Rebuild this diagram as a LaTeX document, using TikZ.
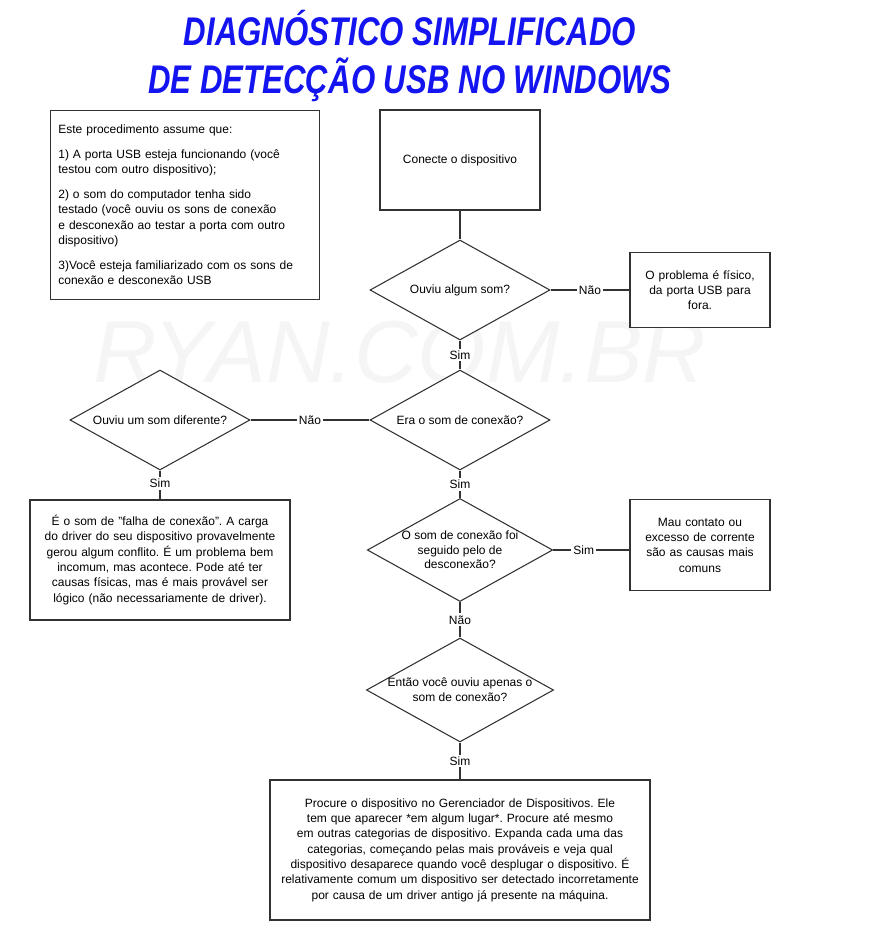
\documentclass[tikz,border=0pt]{standalone}
\usepackage{fontspec}
\setmainfont{Liberation Sans}
\usetikzlibrary{shapes.geometric,positioning}
\definecolor{titleblue}{RGB}{20,20,240}
\definecolor{edgegray}{RGB}{50,50,50}
\hyphenpenalty=10000
\exhyphenpenalty=10000
\frenchspacing

\begin{document}
\begin{tikzpicture}[x=0.75pt,y=-0.75pt,
	box/.style={draw=edgegray,thick,fill=white,align=center,font=\fontsize{9}{11.5}\selectfont},
	dec/.style={diamond,draw=edgegray,thick,fill=white,aspect=1.8,inner sep=0pt,minimum width=135pt,minimum height=75pt,align=center,font=\fontsize{9}{11}\selectfont},
	lab/.style={fill=white,inner sep=1.5pt,font=\fontsize{9}{10}\selectfont},
	line/.style={draw=edgegray,thick}
]
	\useasboundingbox (0,0) rectangle (878,940);
	% title and watermark
	\node[text=titleblue,font=\fontsize{30}{36}\selectfont\bfseries\itshape,align=center,xscale=0.78] (title) at (410,56) {DIAGNÓSTICO SIMPLIFICADO\\DE DETECÇÃO USB NO WINDOWS};
	\node[text=black!4,font=\fontsize{66}{66}\selectfont\itshape] (mark) at (400,352) {RYAN.COM.BR};
	% boxes
	\node[box,align=left,text width=190pt,minimum width=202pt,minimum height=142pt] (note) at (185,205) {Este procedimento assume que:\\[7pt]1) A porta USB esteja funcionando (você testou com outro dispositivo);\\[7pt]2) o som do computador tenha sido testado (você ouviu os sons de conexão e desconexão ao testar a porta com outro dispositivo)\\[7pt]3)Você esteja familiarizado com os sons de conexão e desconexão USB};
	\node[box,minimum width=120pt,minimum height=75pt] (start) at (460,160) {Conecte o dispositivo};
	\node[dec] (heard) at (460,290) {Ouviu algum som?};
	\node[box,text width=95pt,minimum width=105pt,minimum height=56pt] (phys) at (700,290) {O problema é físico,\\da porta USB para\\fora.};
	\node[dec] (conn) at (460,420) {Era o som de conexão?};
	\node[dec] (diff) at (160,420) {Ouviu um som diferente?};
	\node[box,text width=188pt,minimum width=195pt,minimum height=90pt] (fail) at (160,560) {É o som de "falha de conexão". A carga do driver do seu dispositivo provavelmente gerou algum conflito. É um problema bem incomum, mas acontece. Pode até ter causas físicas, mas é mais provável ser lógico (não necessariamente de driver).};
	\node[dec] (disc) at (460,550) {O som de conexão foi\\seguido pelo de\\desconexão?};
	\node[box,text width=95pt,minimum width=105pt,minimum height=68pt] (bad) at (700,545) {Mau contato ou\\excesso de corrente\\são as causas mais\\comuns};
	\node[dec] (only) at (460,690) {Então você ouviu apenas o\\som de conexão?};
	\node[box,text width=276pt,minimum width=285pt,minimum height=105pt] (find) at (460,850) {Procure o dispositivo no Gerenciador de Dispositivos. Ele tem que aparecer *em algum lugar*. Procure até mesmo em outras categorias de dispositivo. Expanda cada uma das categorias, começando pelas mais prováveis e veja qual dispositivo desaparece quando você desplugar o dispositivo. É relativamente comum um dispositivo ser detectado incorretamente por causa de um driver antigo já presente na máquina.};
	% connectors
	\draw[line] (start) -- (heard);
	\draw[line] (heard) -- node[lab] {Não} (phys);
	\draw[line] (heard) -- node[lab,pos=0.5] {Sim} (conn);
	\draw[line] (conn) -- node[lab] {Não} (diff);
	\draw[line] (diff) -- node[lab,pos=0.45] {Sim} (fail);
	\draw[line] (conn) -- node[lab] {Sim} (disc);
	\draw[line] (disc.east) -- node[lab,pos=0.4] {Sim} (disc.east -| bad.west);
	\draw[line] (disc) -- node[lab] {Não} (only);
	\draw[line] (only) -- node[lab,pos=0.5] {Sim} (find);
\end{tikzpicture}
\end{document}
